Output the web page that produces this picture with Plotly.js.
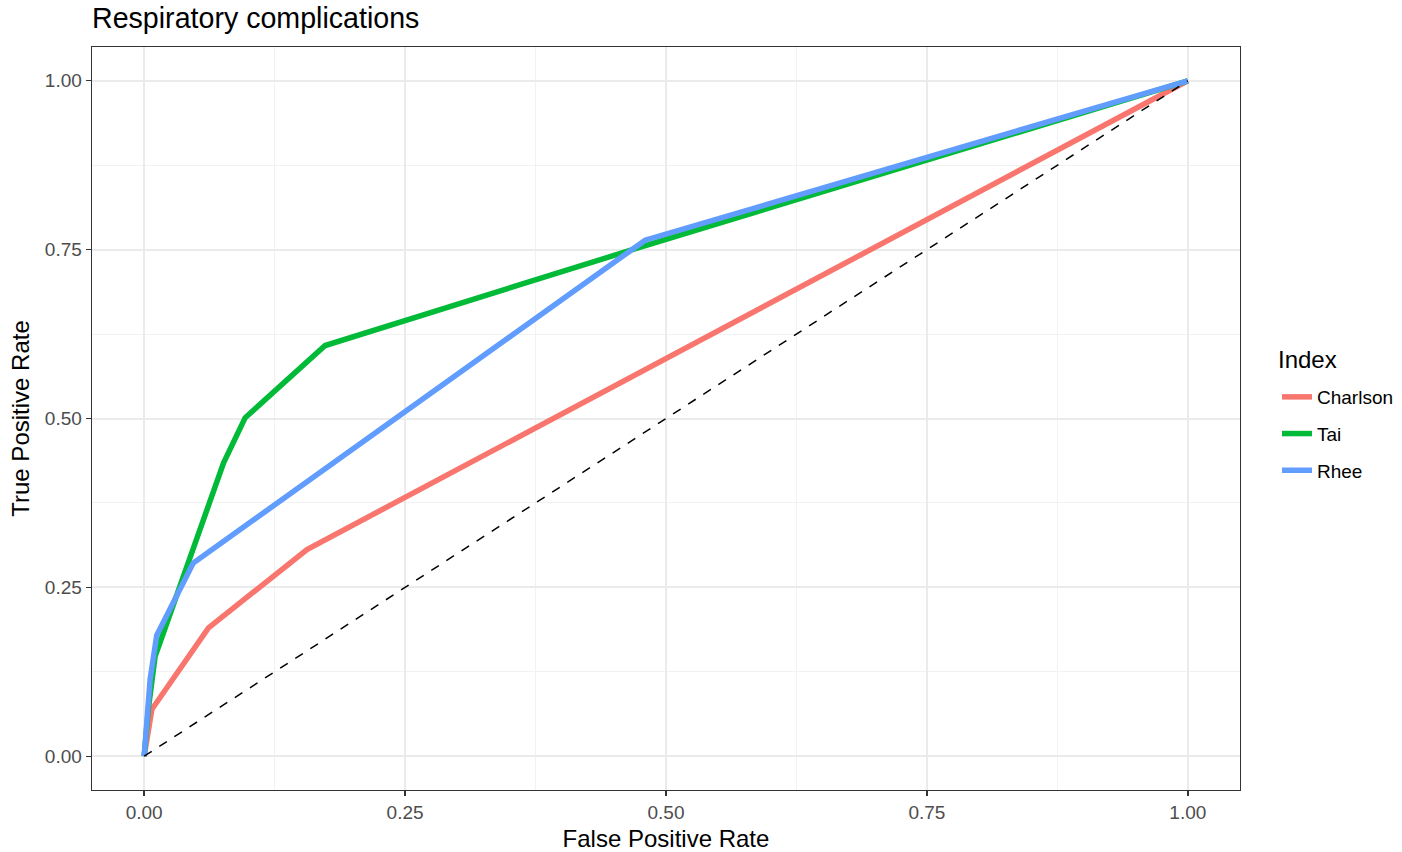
<!DOCTYPE html>
<html>
<head>
<meta charset="utf-8">
<script src="https://cdn.plot.ly/plotly-3.0.1.min.js"></script>
<style>html,body{margin:0;padding:0;background:#fff;}#chart{width:1402px;height:852px;}</style>
</head>
<body>
<div id="chart"></div>
<script>
var seriesNames = ["Charlson", "Tai", "Rhee"];
var seriesColors = ["#F8766D", "#00BA38", "#619CFF"];
var charlsonFPR = [0, 0.0074, 0.0616, 0.156, 1];
var charlsonTPR = [0, 0.0695, 0.190, 0.306, 1];
var taiFPR = [0, 0.004, 0.0105, 0.076, 0.0967, 0.1734, 0.47, 1];
var taiTPR = [0, 0.07, 0.148, 0.434, 0.501, 0.608, 0.751, 1];
var rheeFPR = [0, 0.0026, 0.0057, 0.012, 0.047, 0.48, 1];
var rheeTPR = [0, 0.062, 0.114, 0.179, 0.286, 0.764, 1];
var diagX = [0, 1];
var diagY = [0, 1];
var legendTitle = "Index";
var tickVals = [0, 0.25, 0.5, 0.75, 1];
var tickText = ["0.00", "0.25", "0.50", "0.75", "1.00"];

var xs = [charlsonFPR, taiFPR, rheeFPR];
var ys = [charlsonTPR, taiTPR, rheeTPR];
var traces = [];
for (var i = 0; i < 3; i++) {
  traces.push({
    x: xs[i], y: ys[i], type: "scatter", mode: "lines", name: seriesNames[i],
    legendgroup: seriesNames[i],
    line: {color: seriesColors[i], width: 5.5}
  });
}
traces.push({x: diagX, y: diagY, type: "scatter", mode: "lines", showlegend: false,
  line: {color: "#000000", width: 1.5, dash: "dash"}, hoverinfo: "skip"});

var font = "Liberation Sans, Arial, sans-serif";
function axis(title) {
  return {
    range: [-0.05, 1.05], tickmode: "array", tickvals: tickVals, ticktext: tickText,
    showgrid: true, gridcolor: "#EBEBEB", gridwidth: 2,
    minor: {tickmode: "array", tickvals: [0.125, 0.375, 0.625, 0.875], showgrid: true, gridcolor: "#F2F2F2", gridwidth: 1, ticks: ""},
    zeroline: false, showline: true, mirror: true, linecolor: "#333333", linewidth: 1.4,
    ticks: "outside", ticklen: 5, tickcolor: "#333333", tickwidth: 1.4,
    tickfont: {family: font, size: 19, color: "#4D4D4D"},
    title: {text: title, font: {family: font, size: 24, color: "#000000"}, standoff: 8},
    automargin: false
  };
}
var layout = {
  width: 1402, height: 852,
  margin: {l: 92, r: 162, t: 47, b: 62},
  paper_bgcolor: "#ffffff", plot_bgcolor: "#ffffff",
  title: {text: "Respiratory complications", x: 92/1402, xanchor: "left", xref: "container",
          y: 1 - 18/852, yanchor: "middle", yref: "container", font: {family: font, size: 28.6, color: "#000000"}},
  xaxis: axis("False Positive Rate"),
  yaxis: axis("True Positive Rate"),
  showlegend: true,
  legend: {
    x: 1277/1402, xref: "container", xanchor: "left",
    y: 1 - 378/852, yref: "container", yanchor: "top",
    font: {family: font, size: 19, color: "#000000"},
    tracegroupgap: 9, traceorder: "grouped", itemwidth: 30,
    bgcolor: "rgba(0,0,0,0)"
  },
  annotations: [{
    text: legendTitle, xref: "paper", yref: "paper", showarrow: false,
    x: (1276 - 92) / (1240 - 92), y: (790 - 360) / (790 - 47),
    xanchor: "left", yanchor: "middle",
    font: {family: font, size: 24, color: "#000000"}
  }]
};
Plotly.newPlot("chart", traces, layout, {displayModeBar: false, staticPlot: true});
</script>
</body>
</html>
